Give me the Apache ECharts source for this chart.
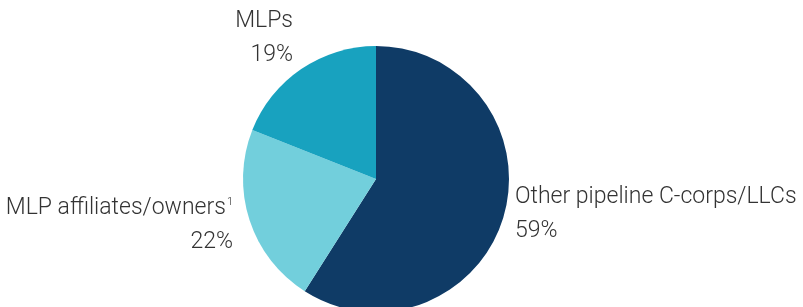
<!DOCTYPE html>
<html>
<head>
<meta charset="utf-8">
<script src="https://cdn.jsdelivr.net/npm/echarts@6/dist/echarts.min.js"></script>
<style>
  html, body { margin: 0; padding: 0; background: #fff; }
  #main { width: 803px; height: 307px; }
</style>
</head>
<body>
<div id="main"></div>
<script>
// values, clockwise from 12 o'clock
var categories = ['Other pipeline C-corps/LLCs', 'MLP affiliates/owners\u00b9', 'MLPs'];
var shares = [59, 22, 19];

var chart = echarts.init(document.getElementById('main'));

// where each label block sits (left/top corner or right/top corner)
var labelSpots = [
  {x: 515, y: 180, align: 'left'},
  {x: 233, y: 191, align: 'right'},
  {x: 293, y: 4, align: 'right'}
];

var pieData = [];
for (var i = 0; i < categories.length; i++) {
  pieData.push({name: categories[i], value: shares[i]});
}

var option = {
  animation: false,
  color: ['#0f3b66', '#72cfdc', '#18a2bf'],
  series: [{
    type: 'pie',
    center: [376, 179],
    radius: 133,
    startAngle: 90,
    clockwise: true,
    silent: true,
    label: {
      show: true,
      position: 'outside',
      formatter: function (p) {
        // footnote mark drawn small and raised
        return p.name.replace('\u00b9', '{sup|1}') + '\n' + p.value + '%';
      },
      color: '#333',
      fontFamily: 'Roboto, "Liberation Sans", sans-serif',
      fontWeight: 300,
      fontSize: 23,
      lineHeight: 34,
      overflow: 'none',
      width: 400,
      rich: {
        sup: {
          fontSize: 11,
          fontFamily: 'Roboto, "Liberation Sans", sans-serif',
          fontWeight: 300,
          color: '#333',
          verticalAlign: 'top',
          lineHeight: 34,
          padding: [6, 0, 0, 1]
        }
      }
    },
    labelLine: { show: false },
    labelLayout: function (params) {
      var s = labelSpots[params.dataIndex];
      return { x: s.x, y: s.y, align: s.align, verticalAlign: 'top' };
    },
    itemStyle: { borderWidth: 0 },
    data: pieData
  }]
};
chart.setOption(option);
</script>
</body>
</html>
